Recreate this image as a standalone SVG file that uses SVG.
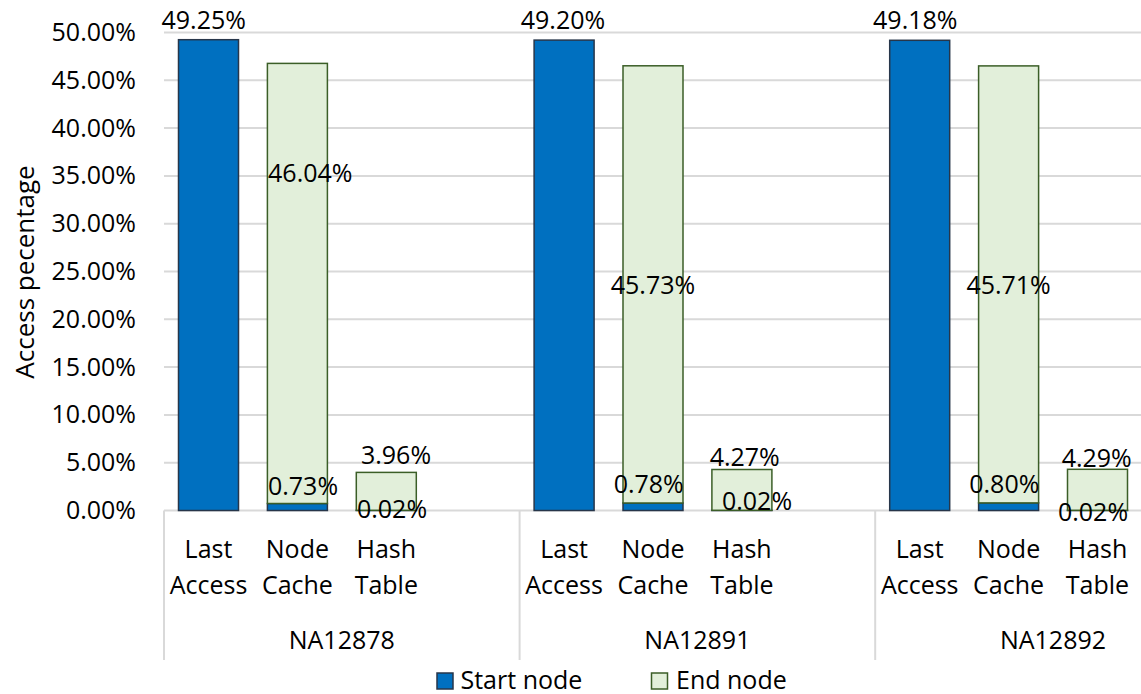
<svg xmlns="http://www.w3.org/2000/svg" width="1141" height="694" viewBox="0 0 1141 694">
<style>
text{font-family:"Open Sans","Liberation Sans",sans-serif;font-size:25px;fill:#000}
.ytick{text-anchor:end}
.c{text-anchor:middle}
.grid{stroke:#D9D9D9;stroke-width:2;fill:none}
.start{fill:#0070C0;stroke:#27364A;stroke-width:1.5}
.end{fill:#E2EFDA;stroke:#3B5E27;stroke-width:1.5}
</style>
<rect width="1141" height="694" fill="#fff"/>
<g id="gridlines">
<line class="grid" x1="164" y1="32.5" x2="1141" y2="32.5"/>
<line class="grid" x1="164" y1="80.3" x2="1141" y2="80.3"/>
<line class="grid" x1="164" y1="128.1" x2="1141" y2="128.1"/>
<line class="grid" x1="164" y1="175.9" x2="1141" y2="175.9"/>
<line class="grid" x1="164" y1="223.7" x2="1141" y2="223.7"/>
<line class="grid" x1="164" y1="271.5" x2="1141" y2="271.5"/>
<line class="grid" x1="164" y1="319.3" x2="1141" y2="319.3"/>
<line class="grid" x1="164" y1="367.1" x2="1141" y2="367.1"/>
<line class="grid" x1="164" y1="414.9" x2="1141" y2="414.9"/>
<line class="grid" x1="164" y1="462.7" x2="1141" y2="462.7"/>
<line class="grid" x1="164" y1="510.5" x2="1141" y2="510.5"/>
<line class="grid" x1="164" y1="510.5" x2="164" y2="660"/>
<line class="grid" x1="519.6" y1="510.5" x2="519.6" y2="660"/>
<line class="grid" x1="875.2" y1="510.5" x2="875.2" y2="660"/>
</g>
<g id="y-axis">
<text class="ytick" x="136" y="41">50.00%</text>
<text class="ytick" x="136" y="88.8">45.00%</text>
<text class="ytick" x="136" y="136.6">40.00%</text>
<text class="ytick" x="136" y="184.4">35.00%</text>
<text class="ytick" x="136" y="232.2">30.00%</text>
<text class="ytick" x="136" y="280">25.00%</text>
<text class="ytick" x="136" y="327.8">20.00%</text>
<text class="ytick" x="136" y="375.6">15.00%</text>
<text class="ytick" x="136" y="423.4">10.00%</text>
<text class="ytick" x="136" y="471.2">5.00%</text>
<text class="ytick" x="136" y="519">0.00%</text>
<text class="c" transform="translate(33.5,272) rotate(-90)" style="font-size:26px">Access pecentage</text>
</g>
<g id="group-NA12878">
<rect class="start" x="178.5" y="39.7" width="60" height="470.8"/>
<rect class="start" x="267.4" y="503.5" width="60" height="7"/>
<rect class="end" x="267.4" y="63.4" width="60" height="440.1"/>
<rect class="start" x="356.3" y="510.3" width="60" height="0.2"/>
<rect class="end" x="356.3" y="472.4" width="60" height="37.9"/>
<text class="c" x="203.7" y="28.5">49.25%</text>
<text class="c" x="310.3" y="181.7">46.04%</text>
<text class="c" x="303" y="495">0.73%</text>
<text class="c" x="396" y="464.3">3.96%</text>
<text class="c" x="392" y="518.3">0.02%</text>
<text class="c" x="208.5" y="558.3">Last</text>
<text class="c" x="208.5" y="594">Access</text>
<text class="c" x="297.4" y="558.3">Node</text>
<text class="c" x="297.4" y="594">Cache</text>
<text class="c" x="386.3" y="558.3">Hash</text>
<text class="c" x="386.3" y="594">Table</text>
<text class="c" x="341.8" y="649.3">NA12878</text>
</g>
<g id="group-NA12891">
<rect class="start" x="534.1" y="40.1" width="60" height="470.4"/>
<rect class="start" x="623" y="503" width="60" height="7.5"/>
<rect class="end" x="623" y="65.8" width="60" height="437.2"/>
<rect class="start" x="711.9" y="510.3" width="60" height="0.2"/>
<rect class="end" x="711.9" y="469.5" width="60" height="40.8"/>
<text class="c" x="563" y="28.7">49.20%</text>
<text class="c" x="653" y="294.3">45.73%</text>
<text class="c" x="648.7" y="493.3">0.78%</text>
<text class="c" x="744.7" y="466">4.27%</text>
<text class="c" x="757" y="510">0.02%</text>
<text class="c" x="564.1" y="558.3">Last</text>
<text class="c" x="564.1" y="594">Access</text>
<text class="c" x="653" y="558.3">Node</text>
<text class="c" x="653" y="594">Cache</text>
<text class="c" x="741.9" y="558.3">Hash</text>
<text class="c" x="741.9" y="594">Table</text>
<text class="c" x="697.4" y="649.3">NA12891</text>
</g>
<g id="group-NA12892">
<rect class="start" x="889.7" y="40.3" width="60" height="470.2"/>
<rect class="start" x="978.6" y="502.9" width="60" height="7.6"/>
<rect class="end" x="978.6" y="65.9" width="60" height="437"/>
<rect class="start" x="1067.5" y="510.3" width="60" height="0.2"/>
<rect class="end" x="1067.5" y="469.3" width="60" height="41"/>
<text class="c" x="915.3" y="28.7">49.18%</text>
<text class="c" x="1008.6" y="294.3">45.71%</text>
<text class="c" x="1004.3" y="493.3">0.80%</text>
<text class="c" x="1096.7" y="467.3">4.29%</text>
<text class="c" x="1093" y="520.7">0.02%</text>
<text class="c" x="919.7" y="558.3">Last</text>
<text class="c" x="919.7" y="594">Access</text>
<text class="c" x="1008.6" y="558.3">Node</text>
<text class="c" x="1008.6" y="594">Cache</text>
<text class="c" x="1097.5" y="558.3">Hash</text>
<text class="c" x="1097.5" y="594">Table</text>
<text class="c" x="1053" y="649.3">NA12892</text>
</g>
<g id="legend">
<rect class="start" x="437" y="673" width="16" height="16"/>
<text x="460.5" y="689">Start node</text>
<rect class="end" x="651.5" y="673" width="16" height="16"/>
<text x="676" y="689">End node</text>
</g>
</svg>
